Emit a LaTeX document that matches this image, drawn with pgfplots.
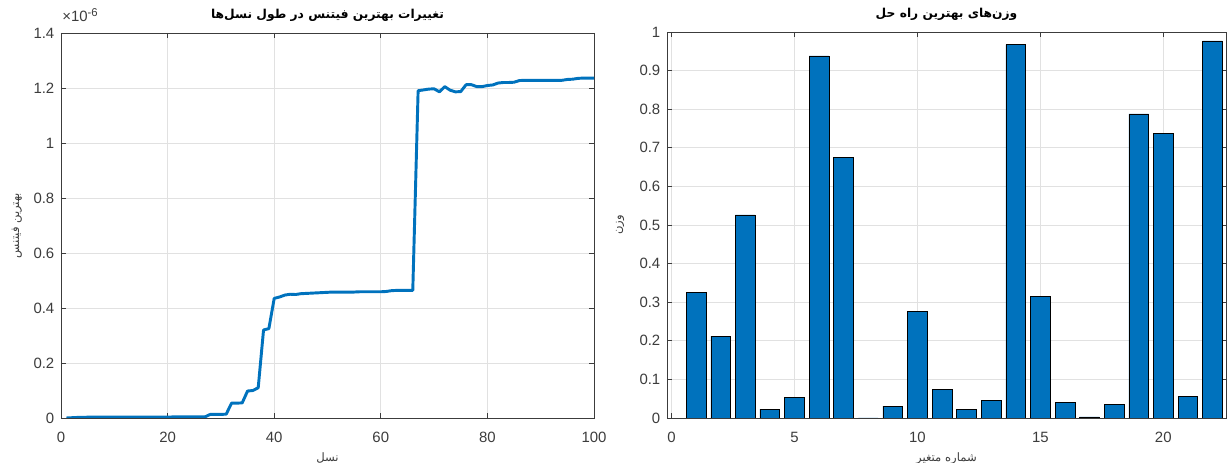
\documentclass[border=0pt]{standalone}
\usepackage{pgfplots}
\pgfplotsset{compat=1.18}
\usepackage{fontspec}
\setmainfont{Liberation Sans}
\newfontfamily\arabicfont[Script=Arabic]{DejaVu Sans}
\TeXXeTstate=1
\newlength\px \setlength\px{0.75pt}
\definecolor{mblue}{RGB}{0,114,189}
\definecolor{axgray}{RGB}{60,60,60}
\definecolor{gridgray}{RGB}{225,225,225}
\pgfplotsset{mystyle/.style={
  scale only axis, anchor=south west, clip mode=individual,
  axis line style={axgray, line width=0.6pt},
  every tick/.style={axgray, line width=0.6pt},
  major tick length=5\px,
  tick align=inside,
  grid=major, grid style={gridgray, line width=0.6pt},
  tick label style={font=\fontsize{11.2}{13}\selectfont, text=axgray},
  /pgf/number format/assume math mode=true,
  xticklabel style={anchor=base, yshift=-18.5pt},
  yticklabel style={xshift=-1.5pt},
  title style={anchor=base, yshift=0pt, font=\arabicfont\fontsize{9.2}{11}\selectfont\bfseries},
  xlabel style={anchor=base, font=\arabicfont\fontsize{8.7}{10}\selectfont, text=axgray},
  ylabel style={anchor=center, font=\arabicfont\fontsize{8.7}{10}\selectfont, text=axgray},
}}
\begin{document}
\begin{tikzpicture}
\path[use as bounding box] (0,0) rectangle (1231\px,463\px);
\begin{axis}[mystyle, at={(61\px,45\px)}, width=533\px, height=385\px,
  xmin=0, xmax=100, ymin=0, ymax=1.4,
  xtick={0,20,40,60,80,100}, ytick={0,0.2,0.4,0.6,0.8,1,1.2,1.4},
  title={\beginR تغییرات بهترین فیتنس در طول نسل‌ها\endR},
  title style={at={(axis description cs:0.5,1.018)}},
  xlabel={\beginR نسل\endR},
  xlabel style={at={(axis description cs:0.5,-0.112)}},
  ylabel={\beginR بهترین فیتنس\endR},
  ylabel style={at={(axis description cs:-0.0826,0.5)}},
]
\addplot[mblue, line width=2.2pt, line join=round] coordinates {
(1,0.000)(2,0.001)(3,0.002)(4,0.002)(5,0.003)(6,0.003)(7,0.003)(8,0.003)(9,0.003)(10,0.003)
(11,0.003)(12,0.003)(13,0.003)(14,0.003)(15,0.003)(16,0.003)(17,0.003)(18,0.003)(19,0.003)(20,0.003)
(21,0.004)(22,0.004)(23,0.004)(24,0.004)(25,0.004)(26,0.004)(27,0.004)(28,0.013)(29,0.013)(30,0.013)
(31,0.014)(32,0.054)(33,0.054)(34,0.055)(35,0.098)(36,0.100)(37,0.110)(38,0.320)(39,0.325)(40,0.435)
(41,0.440)(42,0.447)(43,0.450)(44,0.449)(45,0.452)(46,0.453)(47,0.454)(48,0.455)(49,0.456)(50,0.457)
(51,0.458)(52,0.458)(53,0.458)(54,0.458)(55,0.458)(56,0.459)(57,0.459)(58,0.459)(59,0.459)(60,0.459)
(61,0.460)(62,0.463)(63,0.464)(64,0.464)(65,0.464)(66,0.464)(67,1.190)(68,1.193)(69,1.196)(70,1.197)
(71,1.186)(72,1.205)(73,1.192)(74,1.186)(75,1.187)(76,1.212)(77,1.212)(78,1.205)(79,1.205)(80,1.209)
(81,1.211)(82,1.218)(83,1.220)(84,1.220)(85,1.221)(86,1.227)(87,1.228)(88,1.228)(89,1.228)(90,1.228)
(91,1.228)(92,1.228)(93,1.228)(94,1.228)(95,1.231)(96,1.232)(97,1.235)(98,1.236)(99,1.236)(100,1.236)
};
\node[anchor=base west, inner sep=0pt, text=axgray, font=\fontsize{11.2}{13}\selectfont]
  at (axis description cs:0.002,1.0286) {×10\raisebox{0.75ex}{\fontsize{8.5}{9}\selectfont -6}};
\end{axis}
\begin{axis}[mystyle, at={(667\px,45\px)}, width=559\px, height=386\px,
  xmin=-0.18, xmax=22.55, ymin=0, ymax=1,
  xtick={0,5,10,15,20}, ytick={0,0.1,0.2,0.3,0.4,0.5,0.6,0.7,0.8,0.9,1},
  title={\beginR وزن‌های بهترین راه حل\endR},
  title style={at={(axis description cs:0.5,1.018)}},
  xlabel={\beginR شماره متغیر\endR},
  xlabel style={at={(axis description cs:0.5,-0.112)}},
  ylabel={\beginR وزن\endR},
  ylabel style={at={(axis description cs:-0.084,0.5)}},
]
\addplot[ybar, bar width=0.8, bar shift=0pt, fill=mblue, draw=black, line width=0.4pt] coordinates {
(1,0.326)(2,0.212)(3,0.526)(4,0.023)(5,0.054)(6,0.938)(7,0.675)(8,0)(9,0.031)(10,0.276)
(11,0.074)(12,0.022)(13,0.045)(14,0.967)(15,0.315)(16,0.041)(17,0.003)(18,0.035)(19,0.788)(20,0.738)
(21,0.056)(22,0.977)
};
\end{axis}
\end{tikzpicture}
\end{document}
